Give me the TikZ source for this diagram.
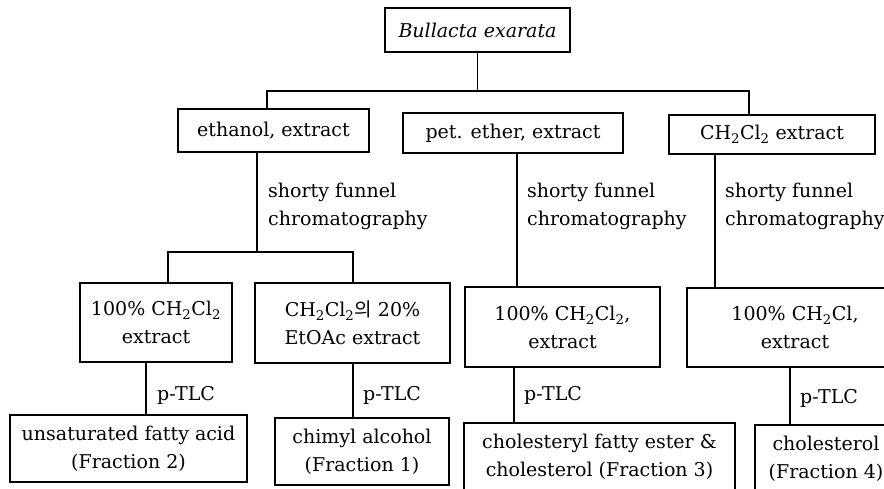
\documentclass[tikz,border=0pt]{standalone}
\usepackage{fontspec}
\setmainfont{DejaVu Serif}
\newfontfamily\krfont{Noto Sans CJK KR}
\newcommand{\dcm}{CH\textsubscript{2}Cl\textsubscript{2}}
\begin{document}
\begin{tikzpicture}[
        x=1pt, y=-1pt,
        every node/.style={font=\fontsize{19}{28}\selectfont},
        stagebox/.style={rectangle, draw, line width=1.1pt, inner sep=0pt,
            align=center},
        sizebox/.style 2 args={stagebox, minimum width=#1, minimum height=#2},
        steplabel/.style={anchor=west, align=left, inner sep=0pt},
        link/.style={line width=1.1pt}
      ]
      \useasboundingbox (0,0) rectangle (884,489);
      \clip (0,0) rectangle (884,489);
      % source and the three extracts
      \node[sizebox={185pt}{44pt}] (source) at (477.5,30) {\textit{Bullacta exarata}};
      \node[sizebox={191pt}{43pt}] (ethanol) at (273.5,130.5) {ethanol, extract};
      \node[sizebox={220pt}{40pt}] (petether) at (513,133) {pet. ether, extract};
      \node[sizebox={206pt}{39pt}] (dcmext) at (772,134.5) {\dcm{} extract};
      \coordinate (barL) at (267,91);
      \coordinate (barR) at (749,91);
      \draw[link] (source.south) -- (source.south |- barL);
      \draw[link] (ethanol.north -| barL) -- (barL) -- (barR) -- (barR |- dcmext.north);
      % chromatography fractions
      \node[sizebox={152pt}{79pt}] (ethA) at (156,322.5) {100\% \dcm\\extract};
      \node[sizebox={195pt}{80pt}] (ethB) at (352.5,323) {\dcm{\krfont 의} 20\%\\EtOAc extract};
      \node[sizebox={195pt}{80pt}] (petC) at (562.5,327) {100\% \dcm,\\extract};
      \node[sizebox={216pt}{79pt}] (dcmD) at (795,327.5) {100\% CH\textsubscript{2}Cl,\\extract};
      \coordinate (ethdrop) at (257,252);
      \coordinate (splitL) at (168,252);
      \coordinate (splitR) at (353,252);
      \coordinate (petdrop) at (517,0);
      \coordinate (dcmdrop) at (715,0);
      \draw[link] (ethanol.south -| ethdrop) -- (ethdrop);
      \draw[link] (ethA.north -| splitL) -- (splitL) -- (splitR) -- (ethB.north -| splitR);
      \draw[link] (petether.south -| petdrop) -- (petC.north -| petdrop);
      \draw[link] (dcmext.south -| dcmdrop) -- (dcmD.north -| dcmdrop);
      \node[steplabel] (ethstep) at (268,206) {shorty funnel\\chromatography};
      \node[steplabel] (petstep) at (527,206) {shorty funnel\\chromatography};
      \node[steplabel] (dcmstep) at (725,206) {shorty funnel\\chromatography};
      % p-TLC products
      \node[sizebox={237pt}{67pt}] (fracB) at (128.5,448.5) {unsaturated fatty acid\\(Fraction 2)};
      \node[sizebox={174pt}{67pt}] (fracA) at (362,451.5) {chimyl alcohol\\(Fraction 1)};
      \node[sizebox={271pt}{67pt}] (fracC) at (599.5,456.5) {cholesteryl fatty ester \&\\cholesterol (Fraction 3)};
      \node[sizebox={142pt}{67pt}] (fracD) at (826,458.5) {cholesterol\\(Fraction 4)};
      \coordinate (tlcA) at (146,0);
      \coordinate (tlcB) at (353,0);
      \coordinate (tlcC) at (514,0);
      \coordinate (tlcD) at (790,0);
      \draw[link] (ethA.south -| tlcA) -- (fracB.north -| tlcA);
      \draw[link] (ethB.south -| tlcB) -- (fracA.north -| tlcB);
      \draw[link] (petC.south -| tlcC) -- (fracC.north -| tlcC);
      \draw[link] (dcmD.south -| tlcD) -- (fracD.north -| tlcD);
      \node[steplabel] (tlclabA) at (157,395) {p-TLC};
      \node[steplabel] (tlclabB) at (363,395) {p-TLC};
      \node[steplabel] (tlclabC) at (524,395) {p-TLC};
      \node[steplabel] (tlclabD) at (800,398) {p-TLC};
    \end{tikzpicture}
\end{document}
